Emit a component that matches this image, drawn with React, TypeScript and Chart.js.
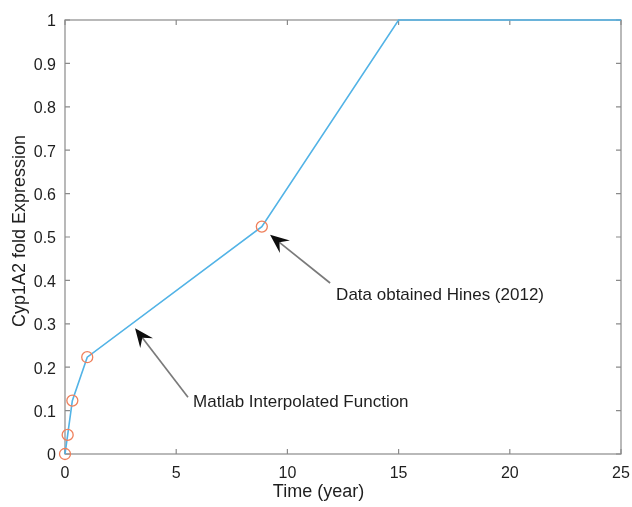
import React, { useEffect, useRef } from "react";
import { Chart, registerables } from "chart.js";
Chart.register(...registerables);

// Interpolated curve (Matlab)
const curveX = [0, 0.12, 0.33, 1, 8.85, 15, 25];
const curveY = [0, 0.044, 0.123, 0.223, 0.524, 1, 1];
// Data points (Hines 2012)
const dataX = [0, 0.12, 0.33, 1, 8.85];
const dataY = [0, 0.044, 0.123, 0.223, 0.524];

const xTicks = [0, 5, 10, 15, 20, 25];
const yTicks = [0, 0.1, 0.2, 0.3, 0.4, 0.5, 0.6, 0.7, 0.8, 0.9, 1];
const xTitle = "Time (year)";
const yTitle = "Cyp1A2 fold Expression";
const xTitleAt = 11.4;

const annoTexts = ["Matlab Interpolated Function", "Data obtained Hines (2012)"];
const annoTip = [[3.15, 0.29], [9.22, 0.505]];
const annoTail = [[5.53, 0.131], [11.92, 0.394]];
const annoLabel = [[5.76, 0.108], [12.19, 0.355]];

const FONT = "'Liberation Sans', Arial, sans-serif";
const AXIS_COLOR = "#8a8a8a";
const TEXT_COLOR = "#1e1e1e";

const decorPlugin = {
  id: "decor",
  beforeDatasetsDraw(chart: any) {
    const { ctx, chartArea: a, scales } = chart;
    const xs = scales.x, ys = scales.y;
    ctx.save();
    ctx.strokeStyle = AXIS_COLOR;
    ctx.lineWidth = 1.2;
    ctx.strokeRect(a.left, a.top, a.right - a.left, a.bottom - a.top);
    const tl = 5;
    ctx.beginPath();
    xTicks.forEach((v) => {
      const px = xs.getPixelForValue(v);
      ctx.moveTo(px, a.bottom); ctx.lineTo(px, a.bottom - tl);
      ctx.moveTo(px, a.top); ctx.lineTo(px, a.top + tl);
    });
    yTicks.forEach((v) => {
      const py = ys.getPixelForValue(v);
      ctx.moveTo(a.left, py); ctx.lineTo(a.left + tl, py);
      ctx.moveTo(a.right, py); ctx.lineTo(a.right - tl, py);
    });
    ctx.stroke();
    ctx.restore();
  },
  afterDatasetsDraw(chart: any) {
    const { ctx, chartArea: a, scales } = chart;
    const xs = scales.x, ys = scales.y;
    ctx.save();
    // annotations
    annoTexts.forEach((t, i) => {
      const tx = xs.getPixelForValue(annoTip[i][0]);
      const ty = ys.getPixelForValue(annoTip[i][1]);
      const sx = xs.getPixelForValue(annoTail[i][0]);
      const sy = ys.getPixelForValue(annoTail[i][1]);
      const ang = Math.atan2(ty - sy, tx - sx);
      const L = 19, W = 8, notch = 12;
      const cx = Math.cos(ang), sn = Math.sin(ang);
      ctx.strokeStyle = "#7a7a7a";
      ctx.lineWidth = 1.7;
      ctx.beginPath();
      ctx.moveTo(sx, sy);
      ctx.lineTo(tx - cx * notch, ty - sn * notch);
      ctx.stroke();
      ctx.fillStyle = "#0d0d0d";
      ctx.beginPath();
      ctx.moveTo(tx, ty);
      ctx.lineTo(tx - cx * L - sn * W, ty - sn * L + cx * W);
      ctx.lineTo(tx - cx * notch, ty - sn * notch);
      ctx.lineTo(tx - cx * L + sn * W, ty - sn * L - cx * W);
      ctx.closePath();
      ctx.fill();
      ctx.fillStyle = TEXT_COLOR;
      ctx.font = `17px ${FONT}`;
      ctx.textAlign = "left";
      ctx.textBaseline = "alphabetic";
      ctx.fillText(t, xs.getPixelForValue(annoLabel[i][0]), ys.getPixelForValue(annoLabel[i][1]));
    });
    // axis titles
    ctx.fillStyle = TEXT_COLOR;
    ctx.font = `18px ${FONT}`;
    ctx.textAlign = "center";
    ctx.textBaseline = "alphabetic";
    ctx.fillText(xTitle, xs.getPixelForValue(xTitleAt), a.bottom + 43);
    ctx.save();
    ctx.translate(a.left - 45, (a.top + a.bottom) / 2 - 6);
    ctx.rotate(-Math.PI / 2);
    ctx.textBaseline = "middle";
    ctx.fillText(yTitle, 0, 0);
    ctx.restore();
    ctx.restore();
  },
};

export default function App() {
  const ref = useRef<HTMLCanvasElement | null>(null);
  useEffect(() => {
    document.body.style.margin = "0";
    if (!ref.current) return;
    const chart = new Chart(ref.current, {
      type: "scatter",
      data: {
        datasets: [
          {
            label: "Data",
            data: dataX.map((x, i) => ({ x, y: dataY[i] })),
            showLine: false,
            pointStyle: "circle",
            pointRadius: 5.5,
            pointBorderWidth: 1.3,
            pointBorderColor: "#ef805c",
            pointBackgroundColor: "rgba(0,0,0,0)",
            clip: false as any,
          },
          {
            label: "Interp",
            data: curveX.map((x, i) => ({ x, y: curveY[i] })),
            showLine: true,
            borderColor: "#52b3e6",
            borderWidth: 1.6,
            pointRadius: 0,
            tension: 0,
            clip: false as any,
          },
        ],
      },
      options: {
        animation: false,
        responsive: true,
        maintainAspectRatio: false,
        layout: { padding: { left: 0, top: 20, right: 11, bottom: 0 } },
        plugins: { legend: { display: false }, tooltip: { enabled: false } },
        scales: {
          x: {
            type: "linear",
            min: 0,
            max: 25,
            afterBuildTicks: (s: any) => { s.ticks = xTicks.map((v) => ({ value: v })); },
            afterFit: (s: any) => { s.height = 53; s.paddingLeft = 0; s.paddingRight = 0; },
            grid: { display: false, drawTicks: false },
            border: { display: false },
            ticks: { autoSkip: false, maxRotation: 0, padding: 10, color: TEXT_COLOR, font: { size: 16, family: FONT } },
          },
          y: {
            type: "linear",
            min: 0,
            max: 1,
            afterBuildTicks: (s: any) => { s.ticks = yTicks.map((v) => ({ value: v })); },
            afterFit: (s: any) => { s.width = 65; s.paddingTop = 0; s.paddingBottom = 0; },
            grid: { display: false, drawTicks: false },
            border: { display: false },
            ticks: {
              autoSkip: false,
              padding: 9,
              labelOffset: 2,
              color: TEXT_COLOR,
              font: { size: 16, family: FONT },
              callback: (v: any) => (v === 0 || v === 1 ? String(v) : Number(v).toFixed(1)),
            },
          },
        },
      },
      plugins: [decorPlugin],
    });
    return () => chart.destroy();
  }, []);
  return (
    <div style={{ position: "relative", width: 632, height: 507, background: "#fff" }}>
      <canvas ref={ref} />
    </div>
  );
}
